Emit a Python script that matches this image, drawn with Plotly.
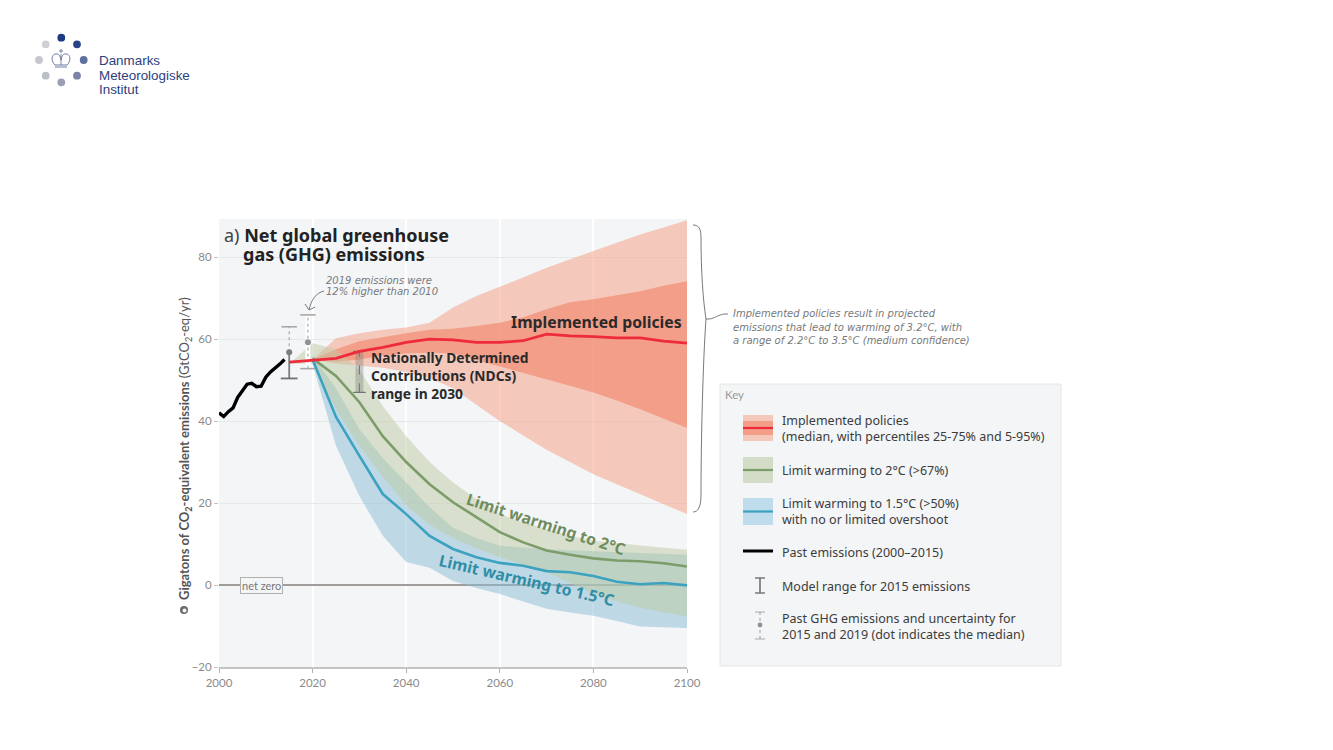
import plotly.graph_objects as go

W, H = 1333, 750
BODY_MARGIN = 8  # browser default around the plot div
BG = "#f3f5f7"
NARROW = "Lato"
SANS = "Noto Sans"
HAND = "DejaVu Sans"

past_years = list(range(2000, 2015))
past_emissions = [42, 41.1, 42.3, 43.2, 45.8, 47.5, 49, 49.2, 48.4, 48.5, 50.7, 52, 52.9, 53.9, 55]

years = list(range(2020, 2101, 5))
policy_p95 = [55, 60.2, 61.4, 62.3, 62.8, 64, 67.7, 70.5, 72.8, 75, 77.4, 79.5, 81.5, 83.5, 85.5, 87.2, 89]
policy_p75 = [55, 57.5, 59.5, 60.5, 61.4, 62.3, 62.5, 63.2, 64, 65.3, 67.3, 69, 69.7, 70.7, 71.7, 73, 74.1]
policy_p25 = [55, 54.5, 55, 56, 56.5, 56.7, 56.5, 55, 53.4, 51.8, 50.2, 48.6, 47, 45, 42.9, 40.6, 38.3]
policy_p5 = [55, 54, 53.5, 53, 52, 50.5, 48, 44, 40, 36.5, 33, 30, 27, 24.5, 22.2, 19.7, 17.3]
policy_median_years = [2015] + years
policy_median = [54.4, 54.8, 55.3, 57, 58, 59.2, 60, 59.8, 59.2, 59.2, 59.6, 61.2, 60.8, 60.6, 60.3, 60.3, 59.5, 59]

two_years = [2015] + years
two_upper = [54, 59, 57.5, 52.5, 43.6, 36.3, 30, 25, 21, 17.3, 15.3, 13.6, 12, 10.8, 10.2, 9.7, 9.1, 8.6]
two_lower = [54, 54, 43, 34, 26.5, 19.5, 14.7, 11.5, 9, 6.8, 5, 3.1, 0.5, -2.2, -4, -5.5, -6.7, -7.6]
two_median = [54.4, 55.3, 51, 44.6, 36.3, 30, 24.6, 20.2, 16.5, 12.9, 10.4, 8.4, 7.4, 6.5, 6, 5.8, 5.3, 4.5]

one_upper = [56, 48, 38, 31, 25, 19, 14, 11.5, 9.6, 9.1, 8.7, 8.5, 8.3, 8, 7.8, 7.6, 7.4]
one_lower = [54, 34, 21.7, 12, 5.6, 4.2, 1, -0.7, -2.2, -4, -5.8, -6.7, -7.5, -8.8, -10.1, -10.3, -10.5]
one_median = [55, 41, 31.5, 22.2, 17.3, 12, 8.8, 6.8, 5.4, 4.7, 3.4, 3.1, 2.2, 0.8, 0.2, 0.5, -0.1]

model_range_year = [2015, 2015]
model_range = [50.4, 57]
past_unc_2015 = [50.4, 56.8, 63]
past_unc_2019 = [52.8, 59.2, 65.9]
ndc_year = [2030, 2030]
ndc_range = [47, 57]


def px(x):
    return (x - BODY_MARGIN) / W


def py(y):
    return 1 - (y - BODY_MARGIN) / H


def rect(x0, y0, x1, y1, fill, line=None, width=0):
    return dict(type="rect", xref="paper", yref="paper", x0=px(x0), x1=px(x1), y0=py(y0), y1=py(y1),
                fillcolor=fill, line=dict(color=line or fill, width=width), layer="above")


def seg(x0, y0, x1, y1, color, width=1.5, dash="solid"):
    return dict(type="line", xref="paper", yref="paper", x0=px(x0), x1=px(x1), y0=py(y0), y1=py(y1),
                line=dict(color=color, width=width, dash=dash), layer="above")


def dot(x, y, r, color):
    return dict(type="circle", xref="paper", yref="paper", x0=px(x - r), x1=px(x + r), y0=py(y + r), y1=py(y - r),
                fillcolor=color, line=dict(width=0), layer="above")


def curve(points, color, width=1.2):
    parts = []
    for cmd, coords in points:
        vals = " ".join(f"{px(coords[i]):.5f},{py(coords[i + 1]):.5f}" for i in range(0, len(coords), 2))
        parts.append(f"{cmd} {vals}")
    return dict(type="path", xref="paper", yref="paper", path=" ".join(parts),
                line=dict(color=color, width=width), layer="above")


def label(x, y, text, size=12, color="#3a3a3a", family=SANS, anchor="left", angle=0):
    # left anchored annotations carry about 2px of padding
    shift = -2 if anchor == "left" else 0
    return dict(xref="paper", yref="paper", x=px(x + shift), y=py(y), text=text, showarrow=False, xanchor=anchor,
                yanchor="middle", align="left", textangle=angle, font=dict(size=size, color=color, family=family))


def band(x, upper, lower, color):
    return go.Scatter(x=x + x[::-1], y=upper + lower[::-1], fill="toself", fillcolor=color,
                      mode="lines", line=dict(width=0), hoverinfo="skip", showlegend=False)


def line(x, y, color, width, dash="solid"):
    return go.Scatter(x=x, y=y, mode="lines", line=dict(color=color, width=width, dash=dash, shape="linear"),
                      hoverinfo="skip", showlegend=False)


def caps(x, y, color, size=11, width=1.6):
    return go.Scatter(x=x, y=y, mode="markers", marker=dict(symbol="line-ew", size=size, line=dict(color=color, width=width)),
                      hoverinfo="skip", showlegend=False)


fig = go.Figure()

# projection bands
fig.add_trace(band(years, policy_p95, policy_p5, "rgba(245,170,147,0.6)"))
fig.add_trace(band(years, policy_p75, policy_p25, "rgba(242,130,102,0.6)"))
fig.add_trace(band(years, one_upper, one_lower, "rgba(139,187,211,0.5)"))
fig.add_trace(band(two_years, two_upper, two_lower, "rgba(189,203,163,0.5)"))

# 2015 and 2019 whiskers
fig.add_trace(line([2019, 2019], [past_unc_2019[0], past_unc_2019[2]], "#ffffff", 5))
fig.add_trace(line([2019, 2019], [past_unc_2019[0], past_unc_2019[2]], "#9a9a9a", 1, "dot"))
fig.add_trace(caps([2019, 2019], [past_unc_2019[0], past_unc_2019[2]], "#a8a8a8"))
fig.add_trace(go.Scatter(x=[2019], y=[past_unc_2019[1]], mode="markers", marker=dict(color="#8f9296", size=6),
                         hoverinfo="skip", showlegend=False))
fig.add_trace(line([2015, 2015], [past_unc_2015[1], past_unc_2015[2]], "#9a9a9a", 1, "dot"))
fig.add_trace(caps([2015], [past_unc_2015[2]], "#a8a8a8"))
fig.add_trace(line(model_range_year, model_range, "#7b7d80", 1.8))
fig.add_trace(caps([2015], [model_range[0]], "#6f7175", 12, 1.8))
fig.add_trace(go.Scatter(x=[2015], y=[past_unc_2015[1]], mode="markers", marker=dict(color="#7b7d80", size=6),
                         hoverinfo="skip", showlegend=False))

# NDC range
fig.add_trace(line(ndc_year, ndc_range, "rgba(120,120,115,0.35)", 8))
fig.add_trace(line(ndc_year, ndc_range, "#6f7170", 1, "dash"))
fig.add_trace(caps(ndc_year, ndc_range, "#6f7170", 9, 1.2))

# medians
fig.add_trace(line(years, one_median, "#3ba2bf", 2.6))
fig.add_trace(line(two_years[1:], two_median[1:], "#7c9c69", 2.6))
fig.add_trace(line(policy_median_years, policy_median, "#ee2b3c", 2.8))
fig.add_trace(line(past_years, past_emissions, "#000000", 3.4))

shapes = []
annotations = []

# logo
logo_dots = [(61.3, 37.7, "#1f3a85"), (77, 44.3, "#2a4288"), (83.7, 60, "#5f6f9f"), (77, 75.7, "#7a84a6"),
             (61.3, 82.3, "#9aa0b4"), (45.7, 75.7, "#bdbfc8"), (39, 60, "#c5c7cc"), (45.7, 44.3, "#cfd0d4")]
for lx, ly, lc in logo_dots:
    shapes.append(dot(lx, ly, 3.9, lc))
crown = "#5c6b96"
shapes.append(curve([("M", [55, 65]), ("C", [50, 60, 52, 53, 57, 54]), ("C", [59, 54, 60, 56, 61, 60]),
                     ("C", [62, 56, 63, 54, 65, 54]), ("C", [70, 53, 72, 60, 67, 65]), ("L", [55, 65])], crown, 0.9))
shapes.append(seg(61, 54, 61, 65, crown, 0.8))
shapes.append(seg(55, 67, 67, 67, "#9aa3bd", 1.4))
shapes.append(seg(61, 49, 61, 53, crown, 0.8))
shapes.append(seg(59, 51, 63, 51, crown, 0.8))
annotations.append(label(99, 60, "Danmarks", 13.4, "#2c4180", "Liberation Sans"))
annotations.append(label(99, 75, "Meteorologiske", 13.4, "#2c4180", "Liberation Sans"))
annotations.append(label(99, 90, "Institut", 13.4, "#2c4180", "Liberation Sans"))

# title and direct labels
annotations.append(label(224, 235, '<span style="color:#444">a)</span> <b>Net global greenhouse</b>', 18, "#222222"))
annotations.append(label(243, 254, "<b>gas (GHG) emissions</b>", 18, "#222222"))
annotations.append(label(511, 322, "<b>Implemented policies</b>", 15.8, "#2a2a2a"))
annotations.append(label(371, 375, "<b>Nationally Determined<br>Contributions (NDCs)<br>range in 2030</b>", 13.8, "#2a2a2a"))
annotations.append(label(546, 524, "<b>Limit warming to 2°C</b>", 15.8, "#6f8c5c", SANS, "center", 18))
annotations.append(label(526, 580, "<b>Limit warming to 1.5°C</b>", 15.8, "#2f8ea6", SANS, "center", 13))

hand = "#77797c"
annotations.append(label(326, 280, "<i>2019 emissions were</i>", 10, hand, HAND))
annotations.append(label(326, 291, "<i>12% higher than 2010</i>", 10, hand, HAND))
shapes.append(curve([("M", [324, 291]), ("C", [316, 293, 311, 300, 309, 310])], hand, 1))
shapes.append(curve([("M", [305, 304]), ("L", [309, 310]), ("L", [315, 307])], hand, 1))

# y axis title
annotations.append(label(185, 449, "<b>Gigatons of CO<sub>2</sub>-equivalent emissions</b> (GtCO<sub>2</sub>-eq/yr)",
                         13, "#555555", NARROW, "center", -90))
shapes.append(dot(184, 610, 4, "#6a6a6a"))
shapes.append(dot(184.5, 610.5, 2, "#f6f6f6"))

# net zero tag
annotations.append(dict(x=2009, y=0, text="net zero", showarrow=False, bgcolor=BG, bordercolor="#b0b0b0",
                        borderwidth=1, borderpad=1, font=dict(size=11, color="#777777", family=NARROW)))

# brace and note
brace = "#77797c"
shapes.append(curve([("M", [693, 225]), ("C", [699, 225, 701, 229, 701, 238]), ("C", [701, 270, 703, 300, 706, 319]),
                     ("C", [703, 360, 701, 440, 701, 495]), ("C", [701, 507, 698, 512, 693, 512])], brace, 1))
shapes.append(curve([("M", [706, 319]), ("C", [715, 320, 718, 313, 728, 314])], brace, 1))
annotations.append(label(733, 314, "<i>Implemented policies result in projected</i>", 10, hand, HAND))
annotations.append(label(733, 327.5, "<i>emissions that lead to warming of 3.2°C, with</i>", 10, hand, HAND))
annotations.append(label(733, 341, "<i>a range of 2.2°C to 3.5°C (medium confidence)</i>", 10, hand, HAND))

# key panel
shapes.append(rect(720, 384, 1061, 666, BG, "#e4e7e4", 1))
annotations.append(label(725, 394, "Key", 11.5, "#9a9a9a", NARROW))
shapes.append(rect(743, 415, 773, 441, "#f4c8bb"))
shapes.append(rect(743, 421, 773, 435, "#f39e88"))
shapes.append(seg(743, 428, 773, 428, "#ee2b3c", 2.2))
shapes.append(rect(743, 457, 773, 483, "#d3dcc6"))
shapes.append(seg(743, 470, 773, 470, "#7c9c69", 2.2))
shapes.append(rect(743, 498, 773, 525, "#bedcec"))
shapes.append(seg(743, 511.5, 773, 511.5, "#3ba2bf", 2.2))
shapes.append(seg(743, 551, 773, 551, "#000000", 3))
shapes.append(seg(760, 578, 760, 593, "#6f7175", 1.6))
shapes.append(seg(755, 578, 765, 578, "#6f7175", 1.4))
shapes.append(seg(755, 593, 765, 593, "#6f7175", 1.4))
shapes.append(seg(760, 612, 760, 639, "#9a9a9a", 1, "dot"))
shapes.append(seg(755, 612, 765, 612, "#a8a8a8", 1))
shapes.append(seg(755, 639, 765, 639, "#a8a8a8", 1))
shapes.append(dot(760, 625, 2.4, "#8f9296"))
key_rows = [(428.5, "Implemented policies<br>(median, with percentiles 25-75% and 5-95%)"),
            (470, "Limit warming to 2°C (&gt;67%)"),
            (511.5, "Limit warming to 1.5°C (&gt;50%)<br>with no or limited overshoot"),
            (552, "Past emissions (2000–2015)"),
            (586, "Model range for 2015 emissions"),
            (626.5, "Past GHG emissions and uncertainty for<br>2015 and 2019 (dot indicates the median)")]
for ky, t in key_rows:
    annotations.append(label(782, ky, t, 12.5, "#3c3c3c"))

fig.update_layout(
    width=W, height=H, margin=dict(l=0, r=0, t=0, b=0, autoexpand=False),
    paper_bgcolor="#ffffff", plot_bgcolor=BG, showlegend=False,
    shapes=shapes, annotations=annotations,
    xaxis=dict(domain=[px(219), px(687)], range=[2000, 2100], tickvals=[2000, 2020, 2040, 2060, 2080, 2100],
               automargin=False, showgrid=True, gridcolor="#ffffff", gridwidth=1.5, zeroline=False, showline=True,
               linecolor="#c4c4c4", linewidth=1.5, ticks="outside", ticklen=4, tickcolor="#b0b0b0",
               tickfont=dict(size=11.5, color="#8a8a8a", family=NARROW)),
    yaxis=dict(domain=[py(667), py(219)], range=[-20, 89.3], tickvals=[-20, 0, 20, 40, 60, 80],
               automargin=False, showgrid=True, gridcolor="#e5e7ea", gridwidth=1, zeroline=True, zerolinecolor="#a09c9c",
               zerolinewidth=1.5, showline=False, ticks="outside", ticklen=4, tickcolor="#c4c4c4",
               tickfont=dict(size=11.5, color="#8a8a8a", family=NARROW)),
)

fig.write_html("out.html")
